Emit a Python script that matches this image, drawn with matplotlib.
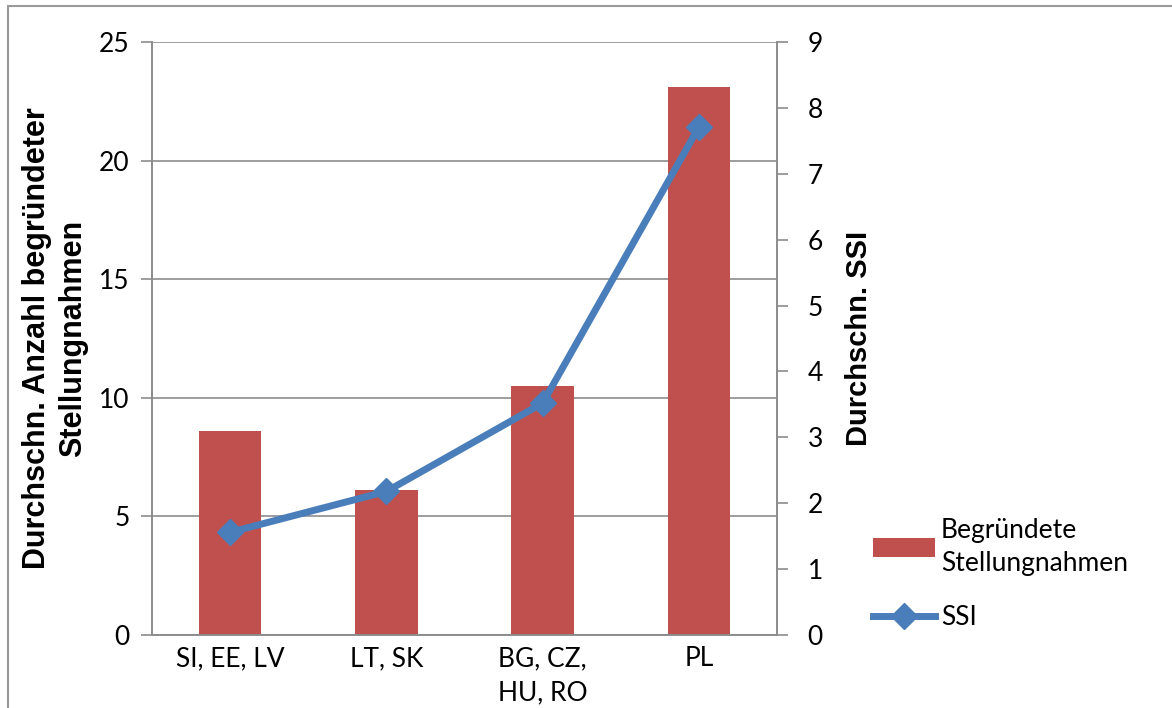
import matplotlib
matplotlib.use('Agg')
import matplotlib.pyplot as plt
from matplotlib.lines import Line2D
from matplotlib.patches import Patch, Rectangle
import numpy as np

# Ländergruppen und Durchschnittswerte
groups = ['SI, EE, LV', 'LT, SK', 'BG, CZ,\nHU, RO', 'PL']
opinions = [8.6, 6.1, 10.5, 23.1]
ssi = [1.56, 2.18, 3.52, 7.71]

bar_color = '#c0504d'
line_color = '#4a7ebb'
grid_color = '#8c8c8c'
tick_font = 'Lato'
label_font = 'Liberation Sans'

fig = plt.figure(figsize=(11.72, 7.08), dpi=100)
ax = fig.add_axes([0.1297, 0.103, 0.5333, 0.8377])
ax2 = ax.twinx()

x = np.arange(len(groups))
ax.bar(x, opinions, width=0.4, color=bar_color, zorder=2)
ax.set_xlim(-0.5, len(groups) - 0.5)
ax.set_ylim(0, 25)
ax.set_yticks(range(0, 26, 5))
ax.yaxis.grid(True, color=grid_color, linewidth=1.2, zorder=0)
ax.set_axisbelow(True)

ax2.plot(x, ssi, color=line_color, linewidth=5, marker='D', markersize=13,
         solid_capstyle='round', solid_joinstyle='round', zorder=3)
ax2.set_ylim(0, 9)
ax2.set_yticks(range(0, 10))

for a in (ax, ax2):
    a.spines['top'].set_visible(False)
    for s in a.spines.values():
        s.set_color(grid_color)
        s.set_linewidth(1.2)
    a.tick_params(axis='y', length=8, width=1.2, color=grid_color, labelsize=19)
    for lbl in a.get_yticklabels():
        lbl.set_fontfamily(tick_font)
ax.tick_params(axis='y', pad=8)
ax2.tick_params(axis='y', pad=14)

ax.tick_params(axis='x', length=0, labelsize=19, pad=8)
ax.set_xticks(x)
ax.set_xticklabels(groups, fontfamily=tick_font, linespacing=1.45)

ax.set_ylabel('Durchschn. Anzahl begründeter\nStellungnahmen', fontsize=22,
              fontweight='bold', fontfamily=label_font, labelpad=8, linespacing=1.25)
ax2.set_ylabel('Durchschn. SSI', fontsize=21, fontweight='bold',
               fontfamily=label_font, labelpad=16)

handles = [Patch(facecolor=bar_color),
           Line2D([], [], color=line_color, linewidth=5, marker='D', markersize=13)]
leg = fig.legend(handles, ['Begründete\nStellungnahmen', 'SSI'],
                 loc='upper left', bbox_to_anchor=(0.725, 0.302), frameon=False,
                 prop={'family': tick_font, 'size': 19}, handlelength=2.35,
                 handletextpad=0.2, labelspacing=1.1)
for t in leg.get_texts():
    t.set_linespacing(1.4)

# grauer Rahmen um die ganze Grafik
fig.add_artist(Rectangle((0.007, -0.05), 1.1, 1.042, transform=fig.transFigure,
                         fill=False, edgecolor='#9a9a9a', linewidth=1.5))

fig.savefig('out.png', dpi=100)
